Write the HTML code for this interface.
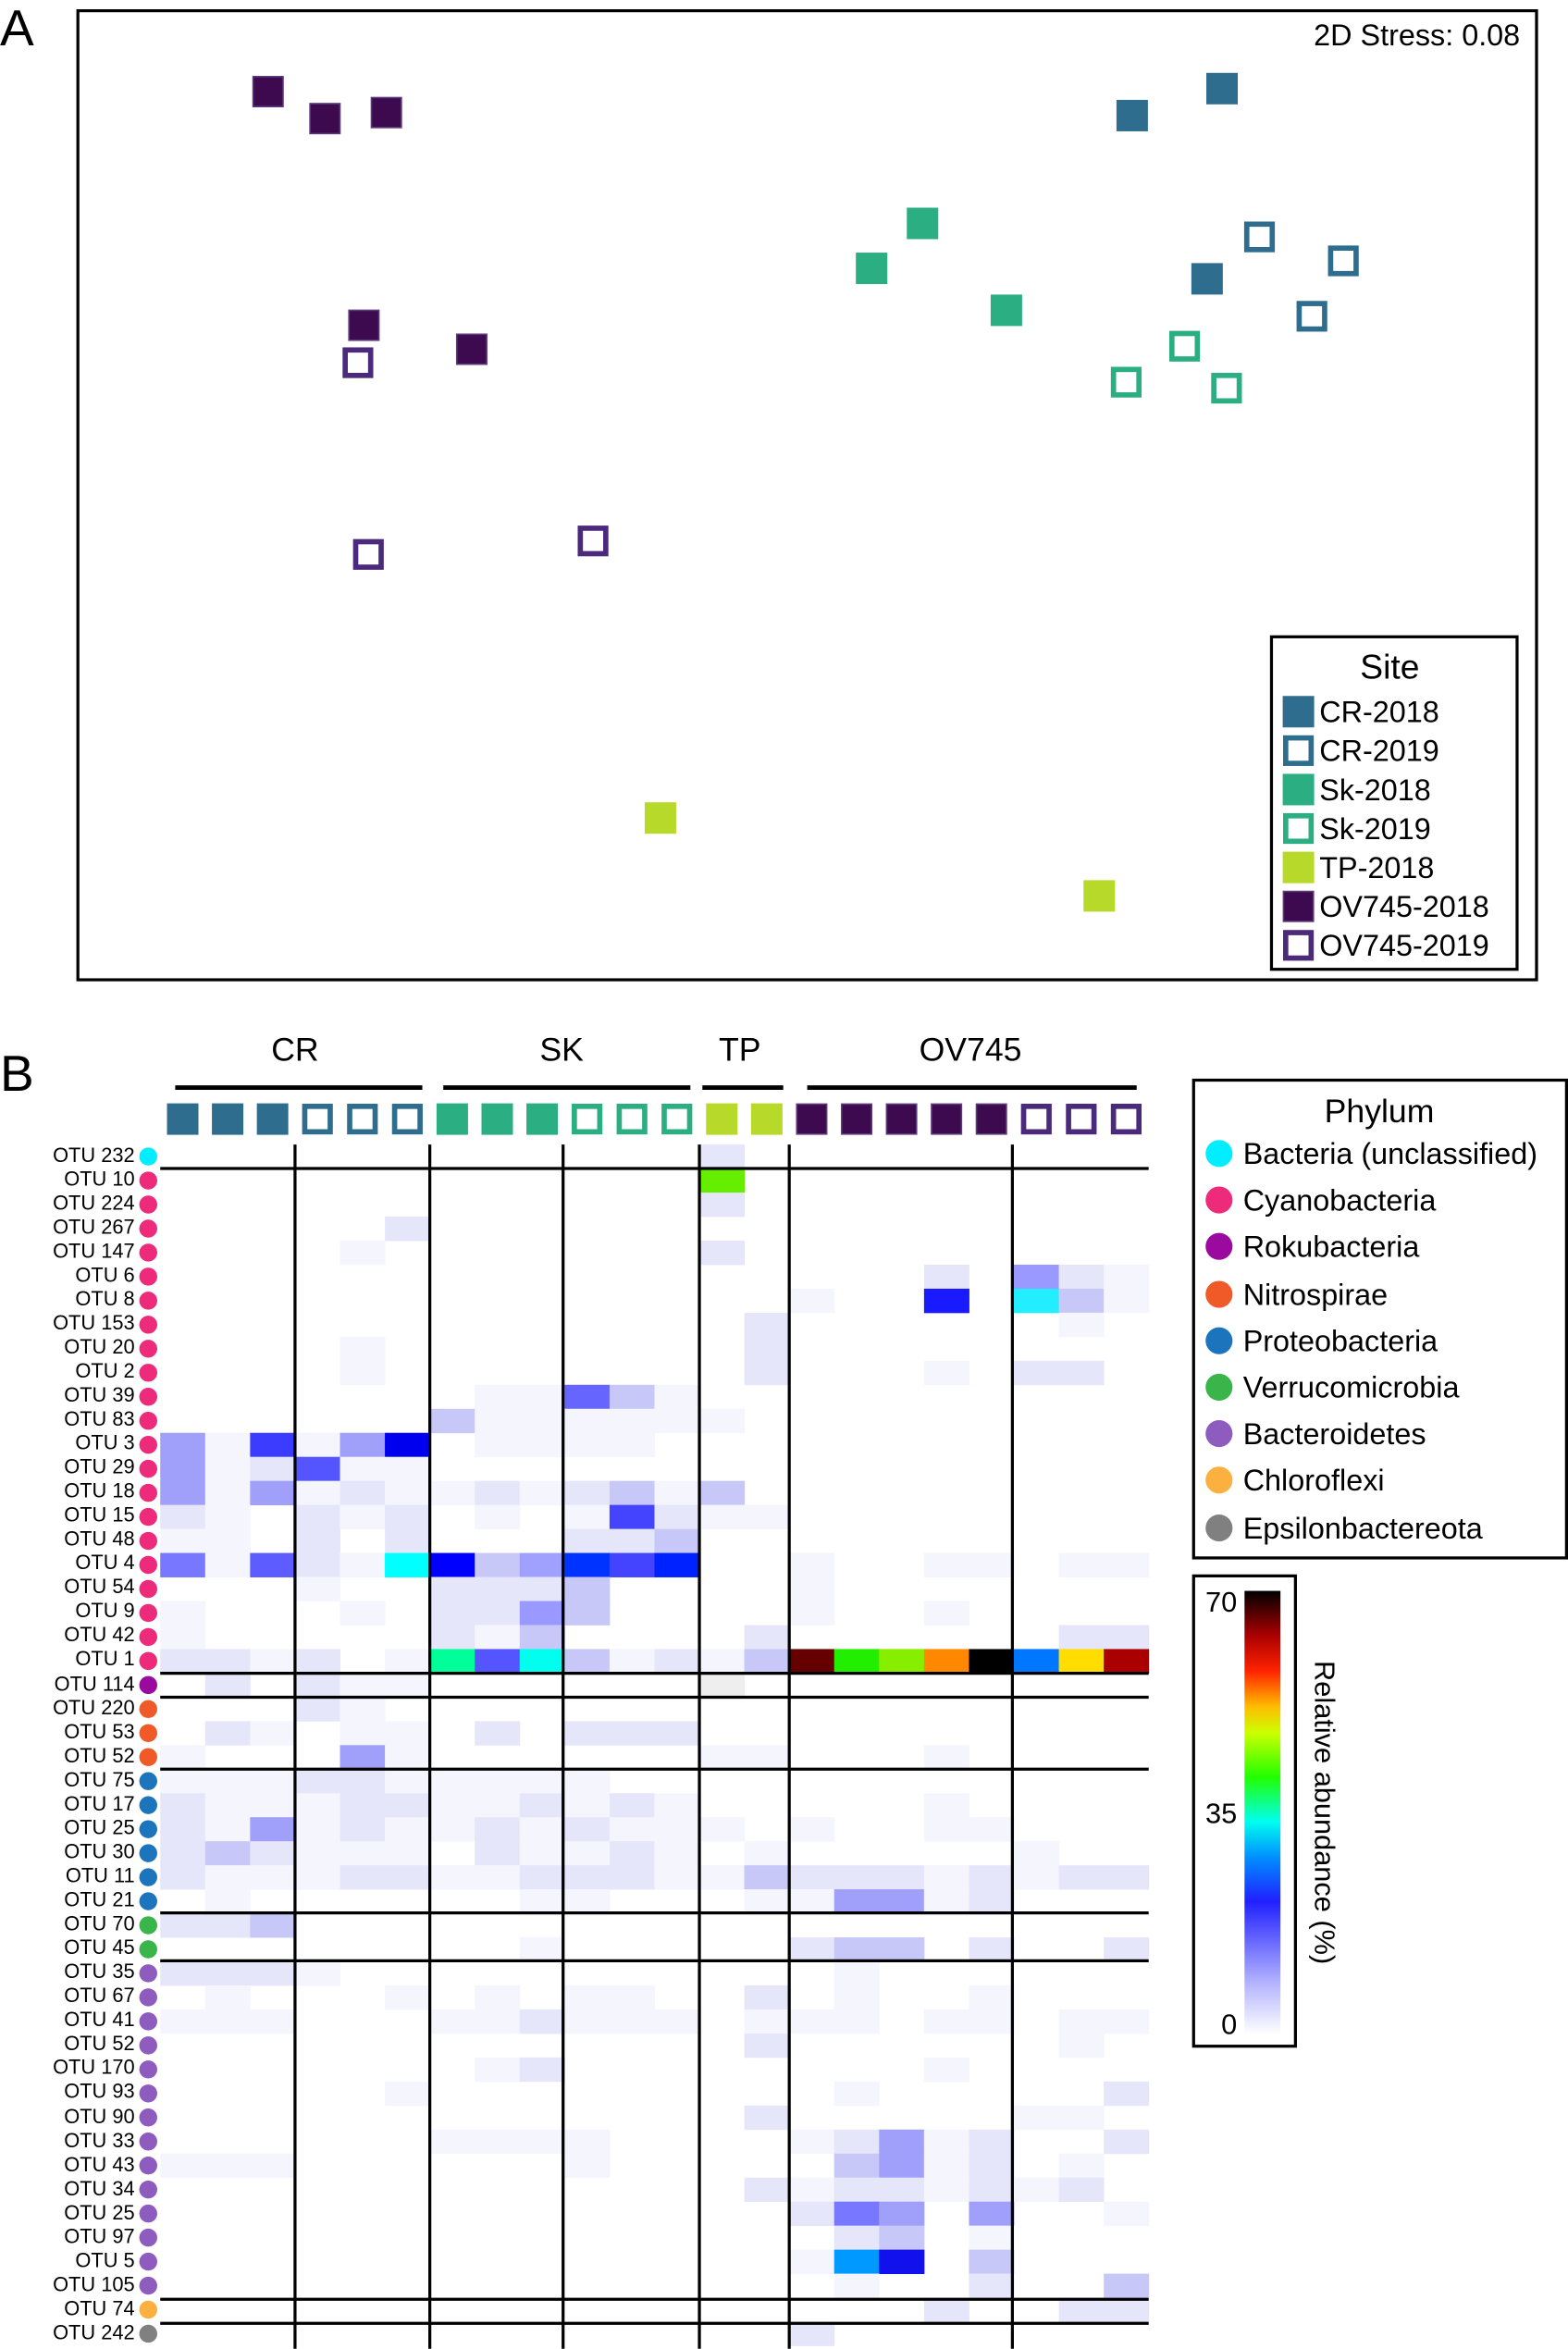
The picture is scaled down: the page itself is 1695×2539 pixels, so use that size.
<!DOCTYPE html>
<html><head><meta charset="utf-8"><style>
html,body{margin:0;padding:0;background:#fff;}
svg{display:block;font-family:"Liberation Sans",sans-serif;}
</style></head><body>
<svg id="s" width="1695" height="2539" viewBox="0 0 1047 1568" xmlns="http://www.w3.org/2000/svg">
<defs>
<linearGradient id="cb" x1="0" y1="1" x2="0" y2="0">
<stop offset="0" stop-color="#ffffff"/>
<stop offset="0.12" stop-color="#b0b0ff"/>
<stop offset="0.3" stop-color="#2020ff"/>
<stop offset="0.4" stop-color="#0090ff"/>
<stop offset="0.48" stop-color="#00ffee"/>
<stop offset="0.58" stop-color="#22ff00"/>
<stop offset="0.68" stop-color="#ccff00"/>
<stop offset="0.74" stop-color="#ffbb00"/>
<stop offset="0.82" stop-color="#ff2200"/>
<stop offset="0.9" stop-color="#aa0000"/>
<stop offset="1" stop-color="#000000"/>
</linearGradient>
</defs>
<!-- Panel A -->
<text x="0" y="30" font-size="34">A</text>
<rect x="52" y="7" width="974" height="647" fill="none" stroke="#000" stroke-width="2"/>
<text x="1015" y="30" font-size="20" text-anchor="end">2D Stress: 0.08</text>
<g id="pts"></g>
<rect x="849" y="425" width="164" height="222" fill="#fff" stroke="#000" stroke-width="2"/>
<g id="lg"></g>
<text x="928" y="453" font-size="23" text-anchor="middle">Site</text>
<g font-size="20">
<text x="881" y="482">CR-2018</text>
<text x="881" y="508">CR-2019</text>
<text x="881" y="534">Sk-2018</text>
<text x="881" y="560">Sk-2019</text>
<text x="881" y="586">TP-2018</text>
<text x="881" y="612">OV745-2018</text>
<text x="881" y="638">OV745-2019</text>
</g>
<!-- Panel B -->
<text x="0" y="728" font-size="34">B</text>
<g font-size="22" text-anchor="middle">
<text x="197" y="708">CR</text><text x="375" y="708">SK</text><text x="494" y="708">TP</text><text x="648" y="708">OV745</text>
</g>
<g stroke="#000" stroke-width="3">
<line x1="117" y1="726" x2="282" y2="726"/><line x1="296" y1="726" x2="461" y2="726"/>
<line x1="469" y1="726" x2="523" y2="726"/><line x1="539" y1="726" x2="759" y2="726"/>
</g>
<g id="hdr"></g>
<g id="cells"></g>
<g stroke="#000" stroke-width="2">
<line x1="197" y1="764" x2="197" y2="1568"/><line x1="287" y1="764" x2="287" y2="1568"/>
<line x1="376" y1="764" x2="376" y2="1568"/><line x1="467" y1="764" x2="467" y2="1568"/>
<line x1="527" y1="764" x2="527" y2="1568"/><line x1="676" y1="764" x2="676" y2="1568"/>
<line x1="107" y1="780" x2="767" y2="780"/><line x1="107" y1="1117" x2="767" y2="1117"/>
<line x1="107" y1="1133" x2="767" y2="1133"/><line x1="107" y1="1181" x2="767" y2="1181"/>
<line x1="107" y1="1277" x2="767" y2="1277"/><line x1="107" y1="1309" x2="767" y2="1309"/>
<line x1="107" y1="1535" x2="767" y2="1535"/><line x1="107" y1="1551" x2="767" y2="1551"/>
</g>
<g font-size="13.5" text-anchor="end" dominant-baseline="middle">
<text x="90" y="772">OTU 232</text><text x="90" y="788">OTU 10</text><text x="90" y="804">OTU 224</text><text x="90" y="820">OTU 267</text><text x="90" y="836">OTU 147</text><text x="90" y="852">OTU 6</text><text x="90" y="868">OTU 8</text><text x="90" y="884">OTU 153</text><text x="90" y="900">OTU 20</text><text x="90" y="916">OTU 2</text><text x="90" y="932">OTU 39</text><text x="90" y="948">OTU 83</text><text x="90" y="964">OTU 3</text><text x="90" y="980">OTU 29</text><text x="90" y="996">OTU 18</text><text x="90" y="1012">OTU 15</text><text x="90" y="1028">OTU 48</text><text x="90" y="1044">OTU 4</text><text x="90" y="1060">OTU 54</text><text x="90" y="1076">OTU 9</text><text x="90" y="1092">OTU 42</text><text x="90" y="1108">OTU 1</text><text x="90" y="1125">OTU 114</text><text x="90" y="1141">OTU 220</text><text x="90" y="1157">OTU 53</text><text x="90" y="1173">OTU 52</text><text x="90" y="1189">OTU 75</text><text x="90" y="1205">OTU 17</text><text x="90" y="1221">OTU 25</text><text x="90" y="1237">OTU 30</text><text x="90" y="1253">OTU 11</text><text x="90" y="1269">OTU 21</text><text x="90" y="1285">OTU 70</text><text x="90" y="1301">OTU 45</text><text x="90" y="1317">OTU 35</text><text x="90" y="1333">OTU 67</text><text x="90" y="1349">OTU 41</text><text x="90" y="1365">OTU 52</text><text x="90" y="1381">OTU 170</text><text x="90" y="1397">OTU 93</text><text x="90" y="1414">OTU 90</text><text x="90" y="1430">OTU 33</text><text x="90" y="1446">OTU 43</text><text x="90" y="1462">OTU 34</text><text x="90" y="1478">OTU 25</text><text x="90" y="1494">OTU 97</text><text x="90" y="1510">OTU 5</text><text x="90" y="1526">OTU 105</text><text x="90" y="1542">OTU 74</text><text x="90" y="1558">OTU 242</text>
</g>
<g id="dots"></g>
<!-- Phylum legend -->
<rect x="797" y="721" width="249" height="319" fill="#fff" stroke="#000" stroke-width="2"/>
<text x="921" y="749" font-size="22" text-anchor="middle">Phylum</text>
<g font-size="20">
<circle cx="814" cy="770" r="9" fill="#00eeff"/><text x="830" y="777">Bacteria (unclassified)</text>
<circle cx="814" cy="801" r="9" fill="#ee2a7b"/><text x="830" y="808">Cyanobacteria</text>
<circle cx="814" cy="832" r="9" fill="#9b0a9e"/><text x="830" y="839">Rokubacteria</text>
<circle cx="814" cy="864" r="9" fill="#f05a28"/><text x="830" y="871">Nitrospirae</text>
<circle cx="814" cy="895" r="9" fill="#1c75bc"/><text x="830" y="902">Proteobacteria</text>
<circle cx="814" cy="926" r="9" fill="#39b54a"/><text x="830" y="933">Verrucomicrobia</text>
<circle cx="814" cy="957" r="9" fill="#8e5cbe"/><text x="830" y="964">Bacteroidetes</text>
<circle cx="814" cy="988" r="9" fill="#fbb040"/><text x="830" y="995">Chloroflexi</text>
<circle cx="814" cy="1020" r="9" fill="#808080"/><text x="830" y="1027">Epsilonbactereota</text>
</g>
<!-- Colorbar -->
<rect x="797" y="1052" width="68" height="314" fill="#fff" stroke="#000" stroke-width="2"/>
<rect x="831" y="1062" width="24" height="296" fill="url(#cb)"/>
<g font-size="19" text-anchor="end">
<text x="826" y="1076">70</text><text x="826" y="1217">35</text><text x="826" y="1358">0</text>
</g>
<text x="0" y="0" font-size="19" text-anchor="middle" transform="translate(878,1210) rotate(90)">Relative abundance (%)</text>
<script>
var NS="http://www.w3.org/2000/svg";
function el(p,t,a){var e=document.createElementNS(NS,t);for(var k in a)e.setAttribute(k,a[k]);document.getElementById(p).appendChild(e);return e;}
var C={cr:"#2e6d8e",sk:"#2bae82",tp:"#b7d92a",ov:"#3d0a50",ov2:"#4b2a7c"};
function sq(g,x,y,c,hollow){ if(hollow) el(g,"rect",{x:x-8.5,y:y-8.5,width:17,height:17,fill:"#fff",stroke:c,"stroke-width":3.5});
 else el(g,"rect",{x:x-10,y:y-10,width:20,height:20,fill:c,stroke:c==C.ov?"#5a3a7a":c,"stroke-width":1});}
[[179,61],[217,79],[258,75],[243,217],[315,233]].forEach(p=>sq("pts",p[0],p[1],C.ov));
[[239,242],[246,370],[396,361]].forEach(p=>sq("pts",p[0],p[1],C.ov2,1));
[[756,77],[816,59],[806,186]].forEach(p=>sq("pts",p[0],p[1],C.cr));
[[841,158],[897,174],[876,211]].forEach(p=>sq("pts",p[0],p[1],C.cr,1));
[[616,149],[582,179],[672,207]].forEach(p=>sq("pts",p[0],p[1],C.sk));
[[791,231],[752,255],[819,259]].forEach(p=>sq("pts",p[0],p[1],C.sk,1));
[[441,546],[734,598]].forEach(p=>sq("pts",p[0],p[1],C.tp));
[["cr",0],["cr",1],["sk",0],["sk",1],["tp",0],["ov",0],["ov2",1]].forEach((a,i)=>sq("lg",867,475+i*26,C[a[0]],a[1]));
var hs=[["cr",0],["cr",0],["cr",0],["cr",1],["cr",1],["cr",1],["sk",0],["sk",0],["sk",0],["sk",1],["sk",1],["sk",1],["tp",0],["tp",0],["ov",0],["ov",0],["ov",0],["ov",0],["ov",0],["ov2",1],["ov2",1],["ov2",1]];
hs.forEach((a,i)=>sq("hdr",122+i*30,747,C[a[0]],a[1]));
var pc=["#00eeff"].concat(Array(21).fill("#ee2a7b"),["#9b0a9e","#f05a28","#f05a28","#f05a28"],Array(6).fill("#1c75bc"),["#39b54a","#39b54a"],Array(14).fill("#8e5cbe"),["#fbb040","#808080"]);
pc.forEach((c,i)=>el("dots","circle",{cx:99,cy:772+i*16.04,r:6,fill:c}));
var L={1:"#f5f5fe",2:"#e6e6fb",3:"#c8c8f8",4:"#a0a0fa"};
var D=[
{12:2},{12:"#66ee00"},{12:2},{5:2},{4:1,12:2},
{17:2,19:"#9999ff",20:2,21:1},
{14:1,17:"#1a1aff",19:"#22eeff",20:3,21:1},
{13:2,20:1},{4:1,13:2},{4:1,13:2,17:1,19:2,20:2},
{7:1,8:1,9:"#6666ff",10:3,11:1},
{6:3,7:1,8:1,9:1,10:1,11:1,12:1},
{0:4,1:1,2:"#3c3cff",3:1,4:4,5:"#0000ee",7:1,8:1,9:1,10:1},
{0:4,1:1,2:2,3:"#5555ff",4:1,5:1},
{0:4,1:1,2:4,3:1,4:2,5:1,6:1,7:2,8:1,9:2,10:3,11:1,12:3},
{0:2,1:1,3:2,4:1,5:2,7:1,9:1,10:"#4444ff",11:2,12:1,13:1},
{0:1,1:1,3:2,5:2,9:2,10:2,11:3},
{0:"#7777ff",1:1,2:"#5c5cff",3:2,4:1,5:"#00ffff",6:"#0000ff",7:3,8:"#a0a0ff",9:"#0033ff",10:"#4444ff",11:"#0022ff",14:1,17:1,18:1,20:1,21:1},
{3:1,6:2,7:2,8:2,9:3,14:1},
{0:1,4:1,6:2,7:2,8:"#9999ff",9:3,14:1,17:1},
{0:1,6:2,7:1,8:3,13:2,20:2,21:2},
{0:2,1:2,2:1,3:2,5:1,6:"#00ff99",7:"#5555ff",8:"#00ffee",9:3,10:1,11:2,12:1,13:3,14:"#660000",15:"#22ee00",16:"#88ee00",17:"#ff8800",18:"#000000",19:"#0077ff",20:"#ffdd00",21:"#aa0000"},
{1:2,3:2,4:1,5:1,12:"#eeeeee"},
{3:2,4:1},
{1:2,2:1,4:1,5:1,7:2,9:2,10:2,11:2},
{0:1,4:4,5:1,12:1,13:1,17:1},
{0:1,1:1,2:1,3:2,4:2,5:1,6:1,7:1,8:1,9:1},
{0:2,1:1,2:1,3:1,4:2,5:2,6:1,7:1,8:2,9:1,10:2,11:1,17:1},
{0:2,1:1,2:4,3:1,4:2,5:1,6:1,7:2,8:1,9:2,10:1,11:1,12:1,14:1,17:1,18:1},
{0:2,1:3,2:2,3:1,4:1,5:1,7:2,8:1,9:1,10:2,11:1,13:1,19:1},
{0:2,1:1,2:1,3:1,4:2,5:2,6:1,7:1,8:2,9:2,10:2,11:1,12:1,13:3,14:2,15:2,16:2,17:1,18:2,19:1,20:2,21:2},
{1:1,8:1,9:1,13:1,14:1,15:4,16:4,17:1,18:2},
{0:2,1:2,2:3},
{8:1,14:2,15:3,16:3,18:2,21:2},
{0:2,1:2,2:2,3:1,15:1},
{1:1,5:1,7:1,9:1,10:1,13:2,15:1,18:1},
{0:1,1:1,2:1,6:1,7:1,8:2,9:1,10:1,11:1,13:1,14:1,15:1,17:1,18:1,20:1,21:1},
{13:2,20:1},{7:1,8:2,17:1},{5:1,15:1,21:2},{13:2,19:1,20:1},
{6:1,7:1,8:1,9:1,14:1,15:2,16:4,17:1,18:2,21:2},
{0:1,1:1,2:1,9:1,15:3,16:4,17:1,18:2,20:1},
{13:2,14:1,15:2,16:2,17:1,18:2,19:1,20:2},
{14:2,15:"#7777ff",16:4,18:4,21:1},
{15:2,16:3,18:1},
{14:1,15:"#0099ff",16:"#1111ee",18:3},
{15:1,18:2,21:3},
{17:2,20:2,21:2},
{14:2}];
D.forEach((r,i)=>{for(var k in r){var v=r[k];var c=typeof v=="number"?L[v]:v;
 el("cells","rect",{x:107+k*30,y:764+i*16.04,width:30.3,height:16.3,fill:c});}});
</script>
</svg>
</body></html>
